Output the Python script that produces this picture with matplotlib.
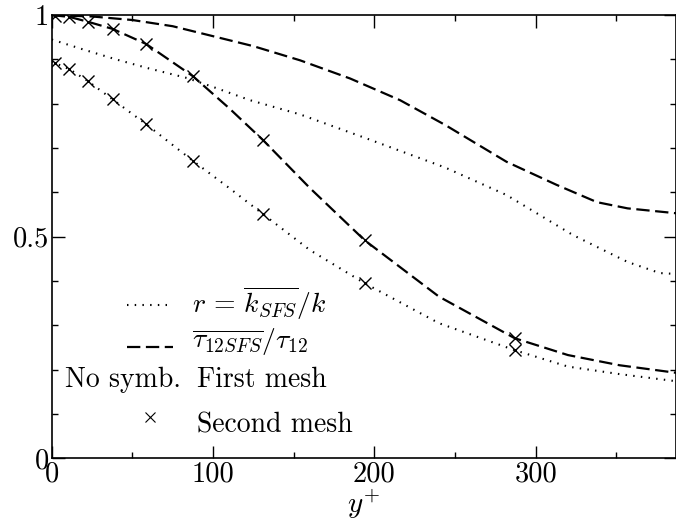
import matplotlib
matplotlib.use('Agg')
import matplotlib.pyplot as plt
import numpy as np

plt.rcParams['font.family'] = 'serif'
plt.rcParams['font.serif'] = ['cmr10', 'DejaVu Serif']
plt.rcParams['mathtext.fontset'] = 'cm'
plt.rcParams['axes.formatter.use_mathtext'] = True

# first mesh (no symbols)
yp_first_tau = [0, 25, 50, 75, 95, 125, 154, 185, 216, 244, 282, 313, 338, 357, 387]
tau_first = [1.0, 0.997, 0.989, 0.975, 0.957, 0.93, 0.898, 0.857, 0.808, 0.752, 0.669, 0.617, 0.578, 0.564, 0.553]

yp_first_r = [0, 20, 40, 60, 84, 100, 123, 154, 195, 244, 282, 323, 357, 377, 387]
r_first = [0.945, 0.922, 0.9, 0.88, 0.858, 0.838, 0.808, 0.776, 0.722, 0.656, 0.594, 0.504, 0.443, 0.418, 0.416]

# second mesh (lines + x at grid points)
yp_second = [0, 11, 22.5, 37.7, 58.5, 87.6, 110, 131, 160, 194, 240, 287, 320, 352, 387]
tau_second = [1.0, 0.996, 0.985, 0.969, 0.935, 0.862, 0.79, 0.718, 0.61, 0.492, 0.365, 0.271, 0.233, 0.21, 0.193]
r_second = [0.895, 0.878, 0.851, 0.81, 0.754, 0.671, 0.61, 0.551, 0.47, 0.395, 0.305, 0.244, 0.207, 0.19, 0.174]

yp_marks = [2, 11, 22.5, 37.7, 58.5, 87.6, 131, 194, 287]
tau_marks = [0.998, 0.996, 0.985, 0.969, 0.935, 0.862, 0.718, 0.492, 0.271]
r_marks = [0.892, 0.878, 0.851, 0.81, 0.754, 0.671, 0.551, 0.395, 0.244]

dash = (0, (6, 2.5))
dot = (0, (0.7, 3))

fig = plt.figure(figsize=(6.76, 5.22), dpi=100)
ax = fig.add_axes([0.0765, 0.122, 0.9235, 0.849])

ax.plot(yp_first_tau, tau_first, color='black', lw=1.6, linestyle=dash)
ax.plot(yp_first_r, r_first, color='black', lw=1.5, linestyle=dot)
ax.plot(yp_second, tau_second, color='black', lw=1.6, linestyle=dash)
ax.plot(yp_second, r_second, color='black', lw=1.5, linestyle=dot)
ax.plot(yp_marks, tau_marks, 'x', color='black', ms=8, mew=1.0)
ax.plot(yp_marks, r_marks, 'x', color='black', ms=8, mew=1.0)

ax.set_xlim(0, 387)
ax.set_ylim(0, 1)
ax.set_xticks([0, 100, 200, 300])
ax.set_xticklabels(['0', '100', '200', '300'])
ax.set_xticks(np.arange(50, 400, 100), minor=True)
ax.set_yticks([0, 0.5, 1])
ax.set_yticklabels(['0', '0.5', '1'])
ax.set_yticks([0.1, 0.2, 0.3, 0.4, 0.6, 0.7, 0.8, 0.9], minor=True)
ax.tick_params(which='both', direction='in', top=True, right=True, labelsize=20.5, width=1.0)
ax.tick_params(which='major', length=9, pad=2)
ax.tick_params(which='minor', length=4.5)
for s in ax.spines.values():
    s.set_linewidth(1.2)

ax.set_xlabel('$y^{+}$', fontsize=21, labelpad=0)

# legend drawn by hand
tr = ax.transAxes
ax.plot([0.1205, 0.194], [0.346, 0.346], transform=tr, color='black', lw=1.5, linestyle=dot)
ax.plot([0.1205, 0.194], [0.251, 0.251], transform=tr, color='black', lw=1.6, linestyle=dash)
ax.text(0.225, 0.328, r'$r\,=\,\overline{k_{SFS}}/k$', transform=tr, fontsize=20, va='baseline')
ax.text(0.225, 0.249, r'$\overline{\tau_{12SFS}}/\tau_{12}$', transform=tr, fontsize=20, va='baseline')
ax.text(0.021, 0.160, 'No symb.', transform=tr, fontsize=20, va='baseline')
ax.text(0.233, 0.160, 'First mesh', transform=tr, fontsize=20, va='baseline')
ax.plot([0.157], [0.093], 'x', transform=tr, color='black', ms=7, mew=0.8)
ax.text(0.233, 0.059, 'Second mesh', transform=tr, fontsize=20, va='baseline')

fig.savefig('out.png', dpi=100)
